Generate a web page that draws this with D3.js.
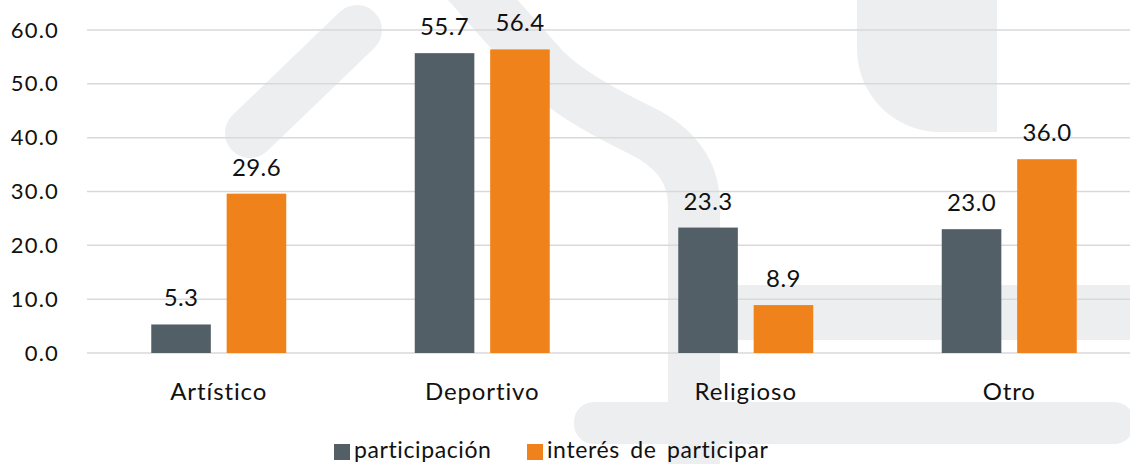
<!DOCTYPE html>
<html>
<head>
<meta charset="utf-8">
<script src="https://cdn.jsdelivr.net/npm/d3@7"></script>
<style>
  html, body { margin: 0; padding: 0; background: #fff; }
  svg { display: block; font-family: Lato, "Open Sans", sans-serif; }
</style>
</head>
<body>
<svg id="chart"></svg>
<script>
// data
var categories = ["Artístico", "Deportivo", "Religioso", "Otro"];
var seriesNames = ["participación", "interés de participar"];
var participacion = [5.3, 55.7, 23.3, 23.0];
var interes = [29.6, 56.4, 8.9, 36.0];
var yTicks = [0, 10, 20, 30, 40, 50, 60];

var width = 1130,
    height = 464,
    colors = ["#535F66", "#F0821B"];

var svg = d3.select("#chart")
    .attr("width", width)
    .attr("height", height);

// light watermark in the background
var wm = svg.append("g").attr("fill", "#EDEEEF").attr("stroke", "#EDEEEF");
wm.append("line")
    .attr("x1", 250).attr("y1", 133).attr("x2", 357).attr("y2", 30)
    .attr("stroke-width", 50).attr("stroke-linecap", "round");
wm.append("path")
    .attr("fill", "none")
    .attr("stroke-width", 52)
    .attr("d", "M465,-20 L545,70 Q572,97 640,130 Q694,156 694,205 L694,470");
wm.append("rect")
    .attr("stroke", "none")
    .attr("x", 700).attr("y", 285).attr("width", 440).attr("height", 55);
wm.append("rect")
    .attr("stroke", "none")
    .attr("x", 574).attr("y", 402).attr("width", 560).attr("height", 42).attr("rx", 20);
wm.append("path")
    .attr("stroke", "none")
    .attr("d", "M857,0 L997,0 L997,132 L940,132 A83,83 0 0 1 857,49 Z");

var x0 = d3.scaleBand()
    .domain(categories)
    .range([87, 1141])
    .paddingInner(0.4877)
    .paddingOuter(0.24385);

var x1 = d3.scaleBand()
    .domain(seriesNames)
    .range([0, x0.bandwidth()])
    .paddingInner(0.21);

var y = d3.scaleLinear()
    .domain([0, 60])
    .range([353, 30]);

// gridlines
svg.append("g")
    .selectAll("line")
    .data(yTicks)
    .enter().append("line")
    .attr("x1", 87)
    .attr("x2", width)
    .attr("y1", function(d) { return y(d); })
    .attr("y2", function(d) { return y(d); })
    .attr("stroke", "#D9D9D9")
    .attr("stroke-width", 1.5);

// y axis labels
var yAxis = svg.append("g")
    .attr("transform", "translate(66,0)")
    .call(d3.axisLeft(y).tickValues(yTicks).tickSize(0).tickPadding(7)
        .tickFormat(function(d) { return d3.format(".1f")(d); }));
yAxis.select(".domain").remove();
yAxis.selectAll("text")
    .attr("font-family", "Lato, sans-serif")
    .attr("font-size", 22)
    .attr("letter-spacing", 1.2)
    .attr("fill", "#111");

// x axis labels
var xAxis = svg.append("g")
    .attr("transform", "translate(0,375)")
    .call(d3.axisBottom(x0).tickSize(0).tickPadding(8));
xAxis.select(".domain").remove();
xAxis.selectAll("text")
    .attr("font-family", "Lato, sans-serif")
    .attr("font-size", 24)
    .attr("letter-spacing", 0.9)
    .attr("fill", "#111");

// bars
var rows = categories.map(function(c, i) {
    return { cat: c, values: [participacion[i], interes[i]] };
});

var groups = svg.selectAll(".group")
    .data(rows)
    .enter().append("g")
    .attr("class", "group")
    .attr("transform", function(d) { return "translate(" + x0(d.cat) + ",0)"; });

var bars = groups.selectAll("g.bar")
    .data(function(d) { return d.values.map(function(v, j) { return { key: seriesNames[j], v: v, j: j }; }); })
    .enter().append("g")
    .attr("class", "bar");

bars.append("rect")
    .attr("x", function(d) { return x1(d.key); })
    .attr("y", function(d) { return y(d.v); })
    .attr("width", x1.bandwidth())
    .attr("height", function(d) { return y(0) - y(d.v); })
    .attr("fill", function(d) { return colors[d.j]; });

bars.append("text")
    .attr("x", function(d) { return x1(d.key) + x1.bandwidth() / 2; })
    .attr("y", function(d) { return y(d.v) - 18; })
    .attr("text-anchor", "middle")
    .attr("font-size", 24)
    .attr("letter-spacing", 0.4)
    .attr("fill", "#111")
    .text(function(d) { return d3.format(".1f")(d.v); });

// legend
var legendX = [334, 527];
var legend = svg.selectAll(".legend")
    .data(seriesNames)
    .enter().append("g")
    .attr("class", "legend")
    .attr("transform", function(d, i) { return "translate(" + legendX[i] + ",444)"; });

legend.append("rect")
    .attr("width", 16)
    .attr("height", 16)
    .attr("fill", function(d, i) { return colors[i]; });

legend.append("text")
    .attr("x", 20)
    .attr("y", 14)
    .attr("font-size", 23)
    .attr("letter-spacing", 0.6)
    .attr("word-spacing", 4)
    .attr("fill", "#111")
    .text(function(d) { return d; });
</script>
</body>
</html>
